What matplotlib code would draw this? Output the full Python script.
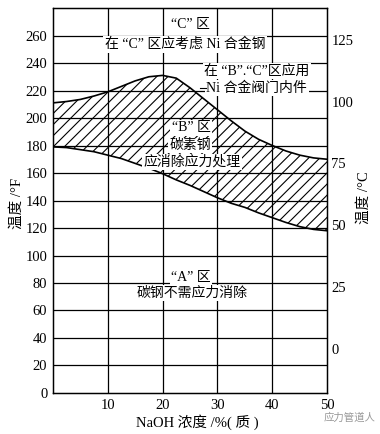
import matplotlib
matplotlib.use("Agg")
import matplotlib.pyplot as plt
import numpy as np

plt.rcParams['font.family'] = ['Liberation Serif', 'Noto Sans CJK SC', 'DejaVu Sans']
plt.rcParams['hatch.linewidth'] = 0.8

# NaOH concentration (% by mass)
naoh = [0, 2.5, 5, 7.5, 10, 12.5, 15, 17.5, 20, 22.5, 25, 27.5, 30, 32.5, 35, 37.5, 40, 42.5, 45, 47.5, 50]
# upper boundary of zone B (°F)
upper_f = [211, 212, 213.5, 216, 219, 223, 227, 230, 231, 229, 222, 214, 206, 198, 190.5, 184.5, 180, 176, 173, 171, 170]
# lower boundary of zone B (°F)
lower_f = [179, 178.5, 177, 175.5, 173, 170.5, 167, 163.5, 159.5, 155, 151, 146.5, 142, 138, 135, 131, 127.5, 124, 121, 119, 118]

f_ticks = [0, 20, 40, 60, 80, 100, 120, 140, 160, 180, 200, 220, 240, 260]
c_ticks = [0, 25, 50, 75, 100, 125]
x_ticks = [10, 20, 30, 40, 50]

fig = plt.figure(figsize=(3.8, 4.34), dpi=100)
ax = fig.add_axes([0.139, 0.0945, 0.722, 0.887])
ax.set_xlim(0, 50)
ax.set_ylim(0, 280)

# grid
for y in f_ticks[1:]:
    ax.axhline(y, color='black', lw=0.9, zorder=1)
for x in x_ticks[:-1]:
    ax.axvline(x, color='black', lw=0.9, zorder=1)

ax.fill_between(naoh, lower_f, upper_f, facecolor='none', edgecolor='black',
                hatch='///', linewidth=0, zorder=2)
ax.plot(naoh, upper_f, color='black', lw=1.2, zorder=3)
ax.plot(naoh, lower_f, color='black', lw=1.2, zorder=3)

for s in ax.spines.values():
    s.set_linewidth(1.0)

ax.set_xticks(x_ticks)
ax.set_yticks(f_ticks)
ax.tick_params(axis='both', length=0, labelsize=10.5)
ax.tick_params(axis='y', pad=4)
ax.tick_params(axis='x', pad=4)

ax2 = ax.twinx()
ax2.set_ylim((0 - 32) * 5 / 9, (280 - 32) * 5 / 9)
ax2.set_yticks(c_ticks)
ax2.tick_params(axis='y', length=0, labelsize=10.5, pad=3)

box = dict(facecolor='white', edgecolor='none', pad=1.0)
fs = 10
ax.text(25, 268, '“C” 区', ha='center', va='center', fontsize=fs, bbox=box, zorder=5)
ax.text(24.1, 253.5, '在 “C” 区应考虑 Ni 合金钢', ha='center', va='center', fontsize=fs, bbox=box, zorder=5)
ax.text(27.6, 234, '在 “B”.“C”区应用', ha='left', va='center', fontsize=fs, bbox=box, zorder=5)
ax.text(28.0, 221.5, 'Ni 合金阀门内件', ha='left', va='center', fontsize=fs, bbox=box, zorder=5)
ax.plot([26.9, 27.9], [221.5, 221.5], color='black', lw=0.8, zorder=5)
ax.text(25.2, 193, '“B” 区', ha='center', va='center', fontsize=fs, bbox=box, zorder=5)
ax.text(25.0, 180, '碳素钢', ha='center', va='center', fontsize=fs, bbox=box, zorder=5)
ax.text(25.3, 168, '应消除应力处理', ha='center', va='center', fontsize=fs, bbox=box, zorder=5)
ax.text(25.2, 84, '“A” 区', ha='center', va='center', fontsize=fs, bbox=box, zorder=5)
ax.text(25.3, 72.5, '碳钢不需应力消除', ha='center', va='center', fontsize=fs, bbox=box, zorder=5)

fig.text(197 / 380, 1 - 422 / 434, 'NaOH 浓度 /%( 质 )', ha='center', va='center', fontsize=10.5)
fig.text(17 / 380, 1 - 203 / 434, '温度 /°F', ha='center', va='center', rotation=90, fontsize=10.5)
fig.text(364 / 380, 1 - 198 / 434, '温度 /°C', ha='center', va='center', rotation=90, fontsize=10.5)
fig.text(350 / 380, 1 - 418 / 434, '应力管道人', ha='center', va='center', fontsize=7.5, color='#999999',
         family=['Noto Sans CJK SC'])

fig.savefig('out.png', dpi=100)
